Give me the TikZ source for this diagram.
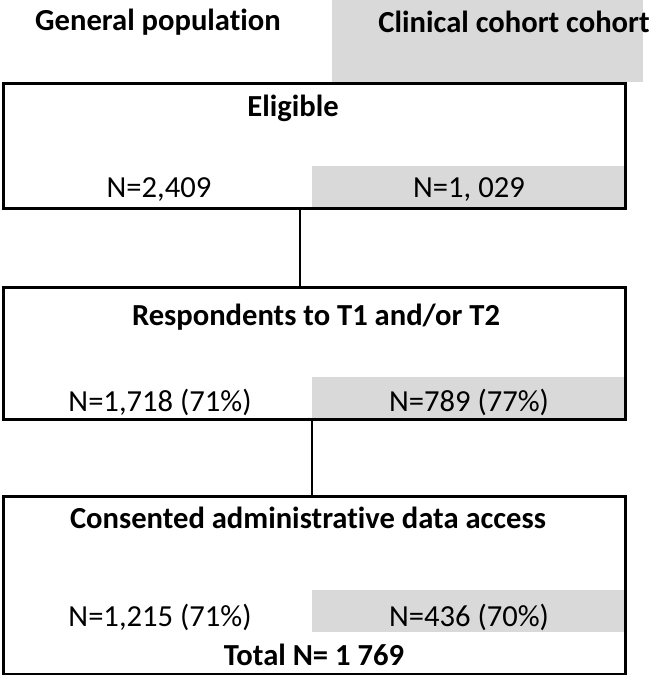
\documentclass[tikz,border=0pt]{standalone}
\usepackage{fontspec}
\setmainfont{Carlito}[Ligatures=NoCommon]
\usepackage{xcolor}
\usepackage{tikz}
\usetikzlibrary{positioning,calc}
\definecolor{cohortgris}{HTML}{D9D9D9}
\tikzset{
  caja/.style={draw=black,line width=1.25pt,inner sep=0pt,anchor=north west,minimum width=311pt},
  franja/.style={fill=cohortgris,inner sep=0pt,anchor=north west,minimum width=156pt},
  titulo/.style={inner sep=0pt,font=\fontsize{15.3}{17}\selectfont\bfseries},
  cifra/.style={inner sep=0pt,font=\fontsize{15.3}{17}\selectfont},
  enlace/.style={line width=1.2pt}
}

\begin{document}
\begin{tikzpicture}[x=0.5pt,y=-0.5pt]
\useasboundingbox (0,0) rectangle (651,675);
% cabecera
\node[fill=cohortgris,inner sep=0pt,anchor=north west,minimum width=155.5pt,minimum height=41pt] (cabclin) at (332,0) {};
\node[titulo] (gen) at (158,22) {General population};
\node[titulo] (clin) at (514,22) {Clinical cohort cohort};
% franjas grises
\node[franja,minimum height=20.5pt] (eligD) at (312,166) {};
\node[franja,minimum height=20.5pt] (respD) at (312,377) {};
\node[franja,minimum height=21pt] (consD) at (312,590) {};
% cajas
\node[caja,minimum height=62.5pt] (elig) at (2,82) {};
\node[caja,minimum height=66pt] (resp) at (2,286) {};
\node[caja,minimum height=89pt] (cons) at (2,495) {};
% textos
\node[titulo] (eligT) at (293,108) {Eligible};
\node[cifra] (eligI) at (159,190) {N=2,409};
\node[cifra] (eligN) at (469,190) {N=1, 029};
\node[titulo] (respT) at (316,317) {Respondents to T1 and/or T2};
\node[cifra] (respI) at (160,402) {N=1,718 (71\%)};
\node[cifra] (respN) at (469,402) {N=789 (77\%)};
\node[titulo] (consT) at (308,518) {Consented administrative data access};
\node[cifra] (consI) at (160,617) {N=1,215 (71\%)};
\node[cifra] (consN) at (469,617) {N=436 (70\%)};
\node[titulo] (total) at (314,655) {Total N= 1 769};
% enlaces
\coordinate (x1) at (300,0);
\draw[enlace] (elig.south -| x1) -- (resp.north -| x1);
\draw[enlace] (resp.south -| respD.west) -- (cons.north -| respD.west);
\end{tikzpicture}
\end{document}
